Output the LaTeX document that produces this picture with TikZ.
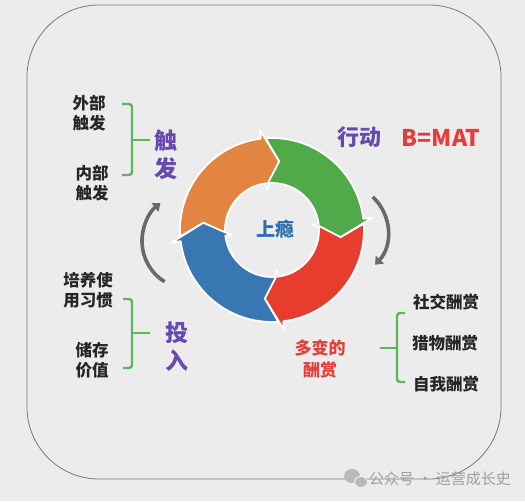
\documentclass[tikz,border=0pt]{standalone}
\usepackage{fontspec}
\newfontfamily\cjk{Noto Sans CJK SC}
\usetikzlibrary{arrows.meta}
\definecolor{bgc}{RGB}{236,236,236}
\definecolor{orng}{RGB}{225,133,64}
\definecolor{grn}{RGB}{80,170,74}
\definecolor{redc}{RGB}{230,61,46}
\definecolor{blu}{RGB}{57,119,179}
\definecolor{purp}{RGB}{102,74,174}
\definecolor{brk}{RGB}{98,180,92}
\definecolor{txtred}{RGB}{229,62,58}
\definecolor{upblue}{RGB}{46,110,178}
\definecolor{bordc}{RGB}{120,120,128}
\definecolor{arcgray}{RGB}{105,105,105}
\newcommand\RingArrow[2]{%
  \filldraw[fill=#1,ringedge] ({#2-3}:92pt) arc[start angle={#2-3}, end angle={#2-90}, radius=92pt]
    -- ({#2-90}:101pt) -- ({#2-103}:69pt) -- ({#2-90}:41pt) -- ({#2-90}:47pt)
    arc[start angle={#2-90}, end angle={#2-2}, radius=47pt] -- ({#2-13}:69pt) -- cycle;}
\begin{document}
\begin{tikzpicture}[x=1pt,y=1pt,
  blk/.style={font=\cjk\bfseries\fontsize{16.5}{20}\selectfont, align=center, text=black!85, inner sep=0pt},
  big/.style={font=\cjk\bfseries\fontsize{23}{28}\selectfont, align=center, text=purp, inner sep=0pt},
  brack/.style={draw=brk, line width=2.4pt, rounded corners=3pt},
  grayarc/.style={draw=arcgray, line width=3.6pt, -{Triangle[width=11pt,length=7pt]}},
  ringedge/.style={draw=white, line width=1.8pt, line join=round}]
\fill[bgc] (0,0) rectangle (525,501);
\useasboundingbox (0,0) rectangle (525,501);
\draw[draw=bordc, line width=0.8pt, rounded corners=72pt] (27,22) rectangle (501,496);
% ring
\begin{scope}[shift={(272,271)}]
\RingArrow{orng}{187}
\RingArrow{grn}{97}
\RingArrow{redc}{7}
\RingArrow{blu}{277}
\end{scope}
% gray cycle arrows
\draw[grayarc] (190,260) ++(238:48pt) arc[start angle=238, end angle=128, radius=48pt];
\draw[grayarc] (340,269) ++(47:48pt) arc[start angle=47, end angle=-43, radius=48pt];
% brackets
\draw[brack] (122,397) -- (132,397) -- (132,326) -- (122,326);
\draw[brack] (132,361) -- (150,361);
\draw[brack] (123,202) -- (132,202) -- (132,133) -- (123,133);
\draw[brack] (132,168) -- (150,168);
\draw[brack] (405,188) -- (397,188) -- (397,119) -- (405,119);
\draw[brack] (380,153) -- (397,153);
% texts
\node[blk] (ext) at (89,388) {外部\\触发};
\node[blk] (int) at (92,318) {内部\\触发};
\node[big] (trig) at (166,346) {触\\发};
\node[font=\cjk\bfseries\fontsize{22}{26}\selectfont, text=purp, inner sep=0pt] (act) at (359,364) {行动};
\node[font=\cjk\bfseries\fontsize{23}{26}\selectfont, text=txtred, inner sep=0pt] (bmat) at (441,363) {B=MAT};
\node[font=\cjk\bfseries\fontsize{19}{22}\selectfont, text=upblue, inner sep=0pt] (hook) at (275,272) {上瘾};
\node[blk] (hab) at (88,211) {培养使\\用习惯};
\node[blk] (val) at (92,141) {储存\\价值};
\node[big] (inv) at (177,154) {投\\入};
\node[font=\cjk\bfseries\fontsize{17}{22}\selectfont, text=txtred, align=center, inner sep=0pt] (var) at (320,142) {多变的\\酬赏};
\node[blk] (soc) at (446,199) {社交酬赏};
\node[blk] (hunt) at (445,158) {猎物酬赏};
\node[blk] (self) at (446,117) {自我酬赏};
% watermark
\fill[gray!55] (352,25) ellipse (8pt and 7pt);
\filldraw[fill=gray!55, draw=bgc, line width=1pt] (361,19) ellipse (6.5pt and 5.5pt);
\node[font=\cjk\fontsize{15}{16}\selectfont, text=gray!75, inner sep=0pt] (wm) at (440,22) {公众号 · 运营成长史};
\end{tikzpicture}
\end{document}
